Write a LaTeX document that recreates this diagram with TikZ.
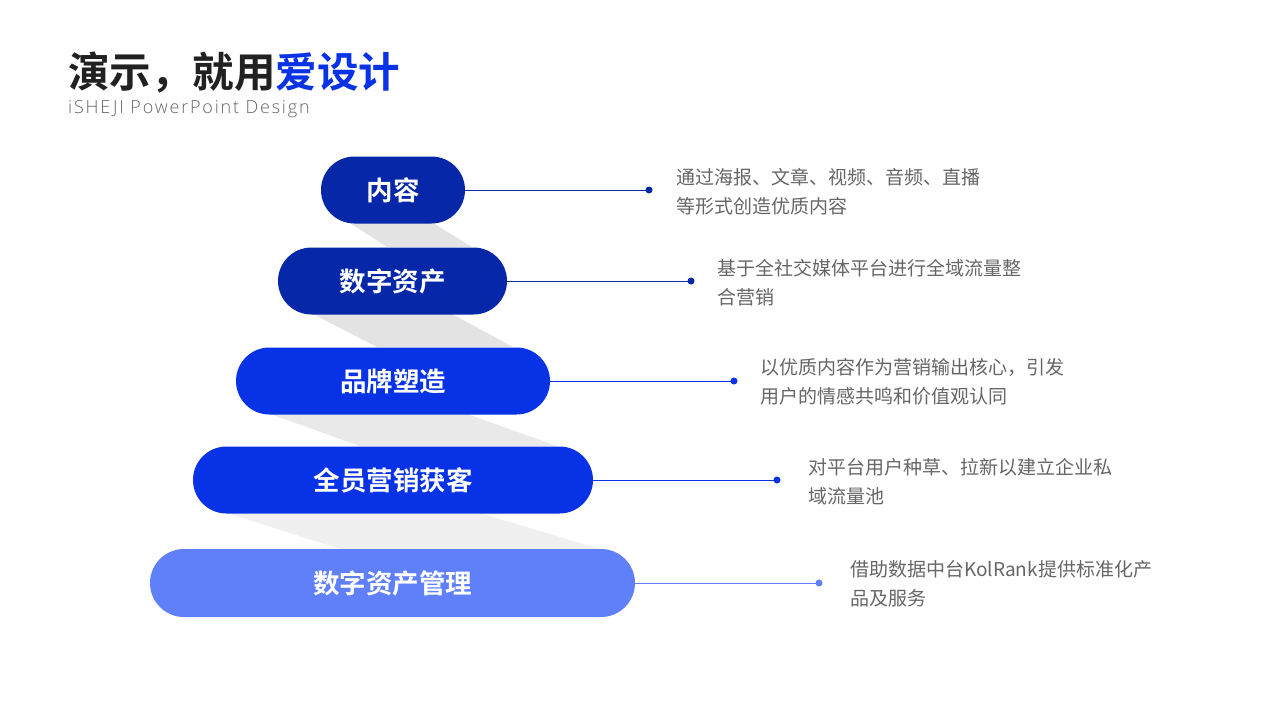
\documentclass[tikz,border=0pt]{standalone}
\usepackage{fontspec}
\usetikzlibrary{shapes.misc}
\setmainfont{Noto Sans CJK SC}[BoldFont={Noto Sans CJK SC Bold}]
\newfontfamily\latinl{Open Sans Light}[LetterSpace=10]
\definecolor{dk}{HTML}{0527A8}
\definecolor{md}{HTML}{0832E6}
\definecolor{lt}{HTML}{6080FA}
\definecolor{sh}{HTML}{E3E3E3}
\definecolor{shl}{HTML}{F0F0F0}
\definecolor{tx}{HTML}{666666}
\tikzset{
 pill/.style={rounded rectangle, minimum height=67pt, text=white, font=\bfseries\fontsize{26.5}{30}\selectfont, inner sep=0pt},
 desc/.style={anchor=north west, text=tx, font=\fontsize{19}{29}\selectfont, align=left, inner sep=0pt},
 conn/.style={line width=0.8pt},
}
\begin{document}
\begin{tikzpicture}[x=1pt,y=-1pt]
\useasboundingbox[fill=white] (0,0) rectangle (1280,720);
\node[anchor=west, inner sep=0pt, font=\bfseries\fontsize{41.5}{44}\selectfont, text=black!87] (t) at (68,73) {演示，就用\textcolor{md}{爱设计}};
\node[anchor=west, inner sep=0pt, font=\latinl\fontsize{18}{20}\selectfont, text=tx] (st) at (68,109) {iSHEJI PowerPoint Design};
\fill[sh] (350,223) -- (433,223) -- (472,247) -- (387,247) -- cycle;
\fill[sh] (313,314) -- (452,314) -- (513,347) -- (377,347) -- cycle;
\fill[sh!80!white] (270,414) -- (467,414) -- (557,446) -- (360,446) -- cycle;
\fill[shl] (230,514) -- (483,514) -- (600,549) -- (340,549) -- cycle;
\node[pill, fill=dk, minimum width=144pt] (p1) at (393,190) {内容};
\node[pill, fill=dk, minimum width=229pt] (p2) at (392.5,281) {数字资产};
\node[pill, fill=md, minimum width=314pt] (p3) at (393,381) {品牌塑造};
\node[pill, fill=md, minimum width=400pt] (p4) at (393,480) {全员营销获客};
\node[pill, fill=lt, minimum width=485pt, minimum height=68pt] (p5) at (392.5,583) {数字资产管理};
\coordinate (d1) at (649,190);
\coordinate (d2) at (691,281);
\coordinate (d3) at (734,381);
\coordinate (d4) at (777,480);
\coordinate (d5) at (819,583);
\draw[conn, dk] (p1.east) -- (d1); \fill[dk] (d1) circle (3.5);
\draw[conn, dk] (p2.east) -- (d2); \fill[dk] (d2) circle (3.5);
\draw[conn, md] (p3.east) -- (d3); \fill[md] (d3) circle (3.5);
\draw[conn, md] (p4.east) -- (d4); \fill[md] (d4) circle (3.5);
\draw[conn, lt] (p5.east) -- (d5); \fill[lt] (d5) circle (3.5);
\node[desc] (e1) at (676,168) {通过海报、文章、视频、音频、直播\\等形式创造优质内容};
\node[desc] (e2) at (717,259) {基于全社交媒体平台进行全域流量整\\合营销};
\node[desc] (e3) at (760,358) {以优质内容作为营销输出核心，引发\\用户的情感共鸣和价值观认同};
\node[desc] (e4) at (808,458) {对平台用户种草、拉新以建立企业私\\域流量池};
\node[desc] (e5) at (850,560) {借助数据中台KolRank提供标准化产\\品及服务};
\end{tikzpicture}
\end{document}
